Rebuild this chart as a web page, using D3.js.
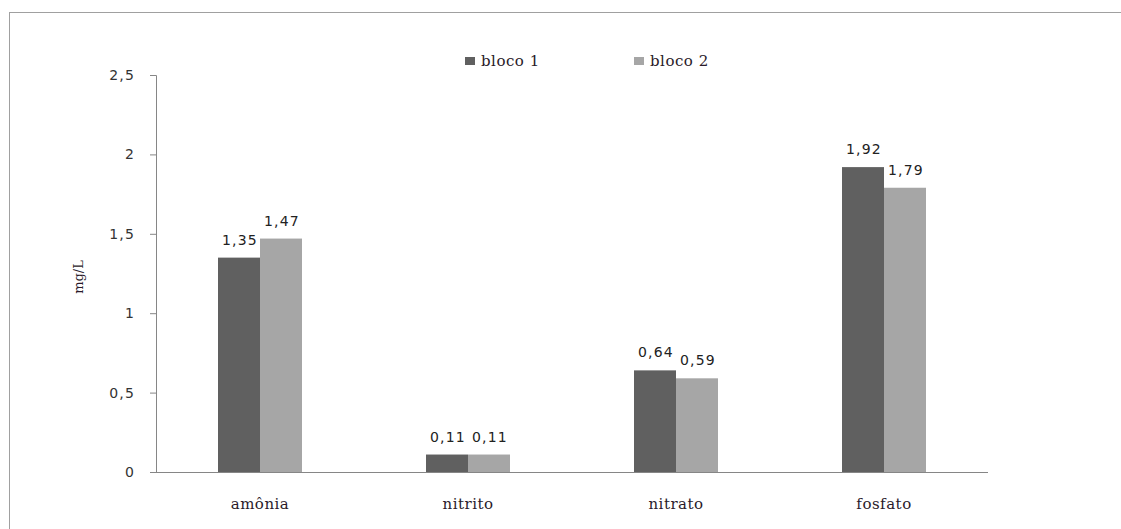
<!DOCTYPE html>
<html>
<head>
<meta charset="utf-8">
<script src="https://cdn.jsdelivr.net/npm/d3@7"></script>
<style>
  body { margin: 0; background: #fff; }
  .axis path, .axis line { stroke: #868686; }
  .axis text { font-family: "DejaVu Sans", Verdana, sans-serif; font-size: 14px; letter-spacing: 1.2px; fill: #333; }
</style>
</head>
<body>
<div id="canvas"></div>
<script>
// data
var categories = ['amônia', 'nitrito', 'nitrato', 'fosfato'];
var series = ['bloco 1', 'bloco 2'];
var bloco1 = [1.35, 0.11, 0.64, 1.92];
var bloco2 = [1.47, 0.11, 0.59, 1.79];
var yTicks = [0, 0.5, 1, 1.5, 2, 2.5];
var colors = ['#606060', '#a6a6a6'];

var W = 1121, H = 529;
var svg = d3.select('#canvas').append('svg')
    .attr('width', W).attr('height', H);

// outer frame (runs off the page at right/bottom)
svg.append('rect')
    .attr('x', 9.5).attr('y', 12.5)
    .attr('width', W + 20).attr('height', H + 20)
    .attr('fill', 'none').attr('stroke', '#a0a0a0');

var m = {t: 75, l: 156, r: 133, b: 57};
var w = W - m.l - m.r, h = H - m.t - m.b;

var plot = svg.append('g')
    .attr('transform', 'translate(' + m.l + ',' + m.t + ')');

var x = d3.scaleBand().domain(categories).range([0, w]).paddingInner(0).paddingOuter(0);
var x1 = d3.scaleBand().domain(series).range([x.bandwidth() / 2 - 42, x.bandwidth() / 2 + 42]);
var y = d3.scaleLinear().domain([0, 2.5]).range([h, 0]);

var fmt = function(v){ return String(v).replace('.', ','); };
var serif = '"DejaVu Serif", Cambria, serif';

// y axis
var axisY = d3.axisLeft(y).tickValues(yTicks).tickSize(6).tickPadding(15).tickFormat(fmt);
plot.append('g').attr('class', 'axis').call(axisY)
    .call(function(g){ g.select('.domain').attr('d', 'M-6,0.5H0.5V' + (h + 0.5)); });

// bars
var rows = categories.map(function(c, i){ return {cat: c, vals: [bloco1[i], bloco2[i]]}; });

var groups = plot.selectAll('.grp').data(rows).enter().append('g')
    .attr('class', 'grp')
    .attr('transform', function(d){ return 'translate(' + x(d.cat) + ',0)'; });

function pairs(d){ return d.vals.map(function(v, j){ return {s: series[j], v: v, j: j}; }); }

groups.selectAll('rect').data(pairs)
    .enter().append('rect')
    .attr('x', function(d){ return x1(d.s); })
    .attr('y', function(d){ return y(d.v); })
    .attr('width', x1.bandwidth())
    .attr('height', function(d){ return h - y(d.v); })
    .attr('fill', function(d){ return colors[d.j]; });

groups.selectAll('text.val').data(pairs)
    .enter().append('text')
    .attr('class', 'val')
    .attr('x', function(d){ return x1(d.s) + x1.bandwidth() / 2 + 1; })
    .attr('y', function(d){ return y(d.v) - 13; })
    .attr('text-anchor', 'middle')
    .style('font-family', '"DejaVu Sans", Verdana, sans-serif')
    .style('font-size', '14px')
    .style('letter-spacing', '1.2px')
    .style('fill', '#222')
    .text(function(d){ return fmt(d.v); });

// x axis
var axisX = d3.axisBottom(x).tickSize(0).tickPadding(26);
var gx = plot.append('g').attr('class', 'axis').attr('transform', 'translate(0,' + h + ')').call(axisX);
gx.select('.domain').attr('d', 'M0,0.5H' + w);
gx.selectAll('text')
    .style('font-family', serif)
    .style('font-size', '15px')
    .style('letter-spacing', '0.5px')
    .style('fill', '#2a1a2a');

// y label
svg.append('text')
    .attr('transform', 'translate(83,277) rotate(-90)')
    .attr('text-anchor', 'middle')
    .style('font-family', serif)
    .style('font-size', '13px')
    .style('fill', '#2a1a2a')
    .text('mg/L');

// legend
var legX = [465, 634];
var leg = svg.selectAll('.leg').data(series).enter().append('g')
    .attr('class', 'leg')
    .attr('transform', function(d, i){ return 'translate(' + legX[i] + ',57)'; });
leg.append('rect').attr('x', 0).attr('y', 0).attr('width', 10).attr('height', 8)
    .attr('fill', function(d, i){ return colors[i]; });
leg.append('text').attr('x', 16).attr('y', 9)
    .style('font-family', serif)
    .style('font-size', '15px')
    .style('letter-spacing', '0.5px')
    .style('fill', '#2a1a2a')
    .text(function(d){ return d; });
</script>
</body>
</html>
